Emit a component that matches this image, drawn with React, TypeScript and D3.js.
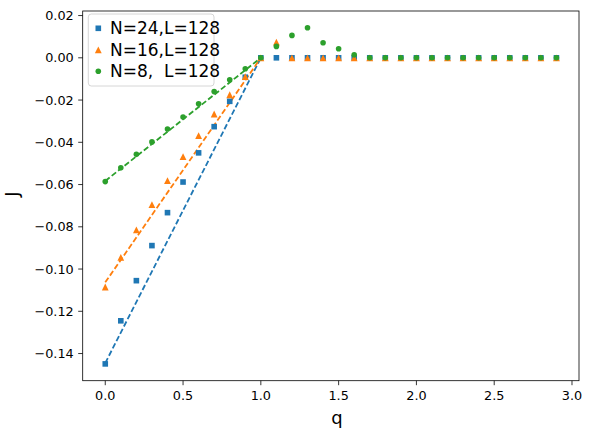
import React from "react";
import * as d3 from "d3";

const qValues = [0, 0.1, 0.2, 0.3, 0.4, 0.5, 0.6, 0.7, 0.8, 0.9, 1.0, 1.1, 1.2, 1.3, 1.4, 1.5, 1.6, 1.7, 1.8, 1.9, 2.0, 2.1, 2.2, 2.3, 2.4, 2.5, 2.6, 2.7, 2.8, 2.9];
const jN24 = [-0.1449, -0.1245, -0.1055, -0.0889, -0.0733, -0.0588, -0.045, -0.0326, -0.0206, -0.0092, 0, 0, 0, 0, 0, 0, 0, 0, 0, 0, 0, 0, 0, 0, 0, 0, 0, 0, 0, 0];
const jN16 = [-0.1085, -0.0945, -0.0815, -0.0695, -0.0581, -0.0468, -0.0368, -0.0266, -0.0175, -0.0089, 0, 0.0074, 0, 0, 0, 0, 0, 0, 0, 0, 0, 0, 0, 0, 0, 0, 0, 0, 0, 0];
const jN8 = [-0.0586, -0.0521, -0.0457, -0.0398, -0.0337, -0.028, -0.0218, -0.016, -0.0104, -0.0052, 0, 0.0054, 0.0106, 0.0142, 0.0071, 0.0043, 0.0014, 0, 0, 0, 0, 0, 0, 0, 0, 0, 0, 0, 0, 0];

const fitQ = [0, 1];
const fitN24 = [-0.1445, 0];
const fitN16 = [-0.1063, 0];
const fitN8 = [-0.0583, 0];

const seriesLabels = ["N=24,L=128", "N=16,L=128", "N=8,  L=128"];
const xTicks = [0, 0.5, 1.0, 1.5, 2.0, 2.5, 3.0];
const yTicks = [-0.14, -0.12, -0.1, -0.08, -0.06, -0.04, -0.02, 0.0, 0.02];

const W = 591, H = 433;
const M = { left: 82.7, right: 12, top: 11, bottom: 52.3 };
const colors = ["#1f77b4", "#ff7f0e", "#2ca02c"];
const FONT = "DejaVu Sans, sans-serif";

function Marker({ kind, x, y, color }: { kind: number; x: number; y: number; color: string }) {
  if (kind === 0) {
    const s = 5.6;
    return <rect x={x - s / 2} y={y - s / 2} width={s} height={s} fill={color} />;
  }
  if (kind === 1) {
    const r = 3.4;
    return (
      <path
        d={`M${x},${y - r}L${x - r},${y + r}L${x + r},${y + r}Z`}
        fill={color}
      />
    );
  }
  return <circle cx={x} cy={y} r={2.8} fill={color} />;
}

export default function App() {
  const allJ = [...jN24, ...jN16, ...jN8];
  const qMin = d3.min(qValues)!, qMax = d3.max(qValues)!;
  const jMin = d3.min(allJ)!, jMax = d3.max(allJ)!;
  const qPad = (qMax - qMin) * 0.05;
  const jPad = (jMax - jMin) * 0.05;

  const x = d3.scaleLinear().domain([qMin - qPad, qMax + qPad]).range([M.left, W - M.right]);
  const y = d3.scaleLinear().domain([jMin - jPad, jMax + jPad]).range([H - M.bottom, M.top]);

  const series = [jN24, jN16, jN8];
  const fits = [fitN24, fitN16, fitN8];
  const line = d3.line<[number, number]>().x((d) => x(d[0])).y((d) => y(d[1]));

  const x0 = M.left, x1 = W - M.right, y0 = M.top, y1 = H - M.bottom;
  const fmtY = (v: number) => d3.format(".2f")(v).replace("-", "\u2212");
  const fmtX = d3.format(".1f");

  return (
    <svg width={W} height={H} style={{ position: "absolute", left: 0, top: 0, background: "#fff" }} fontFamily={FONT}>
      <rect x={0} y={0} width={W} height={H} fill="#fff" />
      {fits.map((f, i) => (
        <path
          key={"f" + i}
          d={line(fitQ.map((q, k) => [q, f[k]]) as [number, number][])!}
          fill="none"
          stroke={colors[i]}
          strokeWidth={1.8}
          strokeDasharray="5.6,2.6"
        />
      ))}
      {series.map((s, i) => (
        <g key={"s" + i}>
          {qValues.map((q, k) => (
            <Marker key={k} kind={i} x={x(q)} y={y(s[k])} color={colors[i]} />
          ))}
        </g>
      ))}
      <rect x={x0} y={y0} width={x1 - x0} height={y1 - y0} fill="none" stroke="#000" strokeWidth={0.8} />
      {xTicks.map((t) => (
        <g key={"xt" + t}>
          <line x1={x(t)} x2={x(t)} y1={y1} y2={y1 + 4.5} stroke="#000" strokeWidth={0.8} />
          <text x={x(t)} y={y1 + 18.8} textAnchor="middle" fontSize={12.8} fill="#000">
            {fmtX(t)}
          </text>
        </g>
      ))}
      {yTicks.map((t) => (
        <g key={"yt" + t}>
          <line x1={x0 - 4.5} x2={x0} y1={y(t)} y2={y(t)} stroke="#000" strokeWidth={0.8} />
          <text x={x0 - 9} y={y(t)} dy="0.35em" textAnchor="end" fontSize={12.8} fill="#000">
            {fmtY(t)}
          </text>
        </g>
      ))}
      <text x={337} y={424} textAnchor="middle" fontSize={18} fill="#000">q</text>
      <text transform={`translate(18,194) rotate(-90)`} textAnchor="middle" fontSize={18} fill="#000">J</text>
      <rect x={88.3} y={14} width={125.7} height={72} rx={3} fill="#fff" fillOpacity={0.8} stroke="#cccccc" strokeWidth={0.8} />
      {seriesLabels.map((lab, i) => {
        const ly = 28.3 + i * 21.5;
        return (
          <g key={"lg" + i}>
            <Marker kind={i} x={98.3} y={ly} color={colors[i]} />
            <text x={110} y={ly} dy="0.36em" fontSize={17} fill="#000" style={{ whiteSpace: "pre" }} xmlSpace="preserve">
              {lab}
            </text>
          </g>
        );
      })}
    </svg>
  );
}
